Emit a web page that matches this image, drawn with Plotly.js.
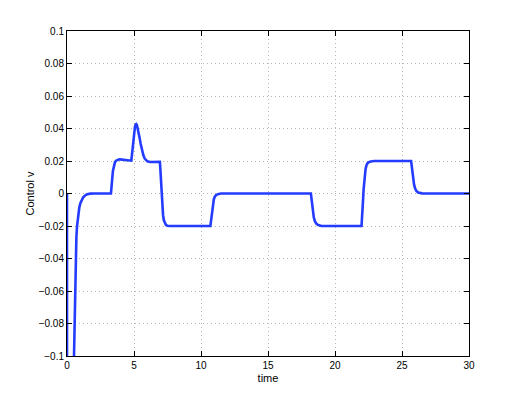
<!DOCTYPE html>
<html>
<head>
<meta charset="utf-8">
<script src="https://cdn.plot.ly/plotly-3.0.1.min.js"></script>
<style>html,body{margin:0;padding:0;background:#fff;}#chart{width:518px;height:403px;}</style>
</head>
<body>
<div id="chart"></div>
<script>
// time samples (s)
const time = [0, 0.001, 0.45, 0.52, 0.57, 0.63, 0.7, 0.75, 0.8, 0.85, 0.92, 1.0, 1.1, 1.2, 1.35, 1.5, 1.75, 2.0, 3.28,
  3.31, 3.34, 3.37, 3.4, 3.43, 3.47, 3.52, 3.58, 3.66, 3.75, 3.85, 3.95, 4.3, 4.8,
  4.83, 4.87, 4.92, 4.97, 5.02, 5.07, 5.12, 5.17, 5.22, 5.27, 5.33, 5.4, 5.5, 5.6, 5.7, 5.8, 5.9, 6.0, 6.2, 6.5, 6.9,
  6.93, 6.96, 6.99, 7.02, 7.05, 7.08, 7.12, 7.17, 7.23, 7.3, 7.38, 7.48, 7.7, 10.7,
  10.73, 10.76, 10.8, 10.85, 10.9, 10.96, 11.03, 11.12, 11.25, 11.5, 18.2,
  18.23, 18.27, 18.31, 18.36, 18.42, 18.5, 18.6, 18.75, 19.0, 21.98,
  22.01, 22.04, 22.07, 22.1, 22.13, 22.17, 22.22, 22.28, 22.35, 22.45, 22.6, 22.9, 25.68,
  25.71, 25.75, 25.79, 25.84, 25.9, 25.97, 26.06, 26.2, 26.5, 30];
// control signal v
const controlV = [0, -0.3, -0.13, -0.1, -0.07, -0.04, -0.027, -0.02, -0.0155, -0.012, -0.0085, -0.006, -0.004, -0.0025, -0.0012, -0.0005, -0.0001, 0, 0,
  0.002, 0.005, 0.0085, 0.0115, 0.014, 0.0162, 0.018, 0.0193, 0.0202, 0.0207, 0.0209, 0.021, 0.0205, 0.0202,
  0.0225, 0.0265, 0.031, 0.035, 0.0385, 0.041, 0.0424, 0.0427, 0.042, 0.0405, 0.038, 0.035, 0.0305, 0.0265, 0.0235, 0.0215, 0.0204, 0.0198, 0.0194, 0.0196, 0.0199,
  0.0195, 0.016, 0.011, 0.006, 0.001, -0.004, -0.009, -0.0135, -0.0165, -0.0183, -0.0193, -0.0198, -0.02, -0.02,
  -0.018, -0.0155, -0.012, -0.0085, -0.0058, -0.0035, -0.002, -0.001, -0.0004, 0, 0,
  -0.002, -0.005, -0.0085, -0.012, -0.0148, -0.017, -0.0185, -0.0194, -0.02, -0.02,
  -0.017, -0.013, -0.008, -0.003, 0.002, 0.007, 0.0115, 0.015, 0.0174, 0.0189, 0.0196, 0.02, 0.02,
  0.018, 0.0148, 0.0115, 0.0082, 0.0055, 0.0033, 0.0017, 0.0006, 0.0001, 0];
const xTicks = [0, 5, 10, 15, 20, 25, 30];
const yTicks = [-0.1, -0.08, -0.06, -0.04, -0.02, 0, 0.02, 0.04, 0.06, 0.08, 0.1];

const axisCommon = {
  showline: true, linecolor: '#000', linewidth: 1, mirror: 'ticks',
  ticks: 'inside', ticklen: 5, tickcolor: '#000', tickwidth: 1,
  showgrid: true, gridcolor: '#b5b5b5', griddash: '1px,3px', gridwidth: 1,
  zeroline: false, tickfont: {family: 'Liberation Sans, Arial, sans-serif', size: 10, color: '#000'}
};

Plotly.newPlot('chart', [{
  x: time, y: controlV, mode: 'lines', type: 'scatter',
  line: {color: 'rgb(35,60,255)', width: 2.6}
}], {
  width: 518, height: 403,
  margin: {l: 67, r: 49, t: 31, b: 47},
  paper_bgcolor: '#fff', plot_bgcolor: '#fff',
  showlegend: false,
  xaxis: Object.assign({}, axisCommon, {
    range: [0, 30], tickvals: xTicks, ticktext: xTicks.map(String),
    title: {text: 'time', font: {family: 'Liberation Sans, Arial, sans-serif', size: 11, color: '#000'}, standoff: 4}
  }),
  yaxis: Object.assign({}, axisCommon, {
    range: [-0.1, 0.1], tickvals: yTicks,
    title: {text: 'Control v', font: {family: 'Liberation Sans, Arial, sans-serif', size: 11, color: '#000'}, standoff: 1}
  })
}, {displayModeBar: false, staticPlot: true});
</script>
</body>
</html>
